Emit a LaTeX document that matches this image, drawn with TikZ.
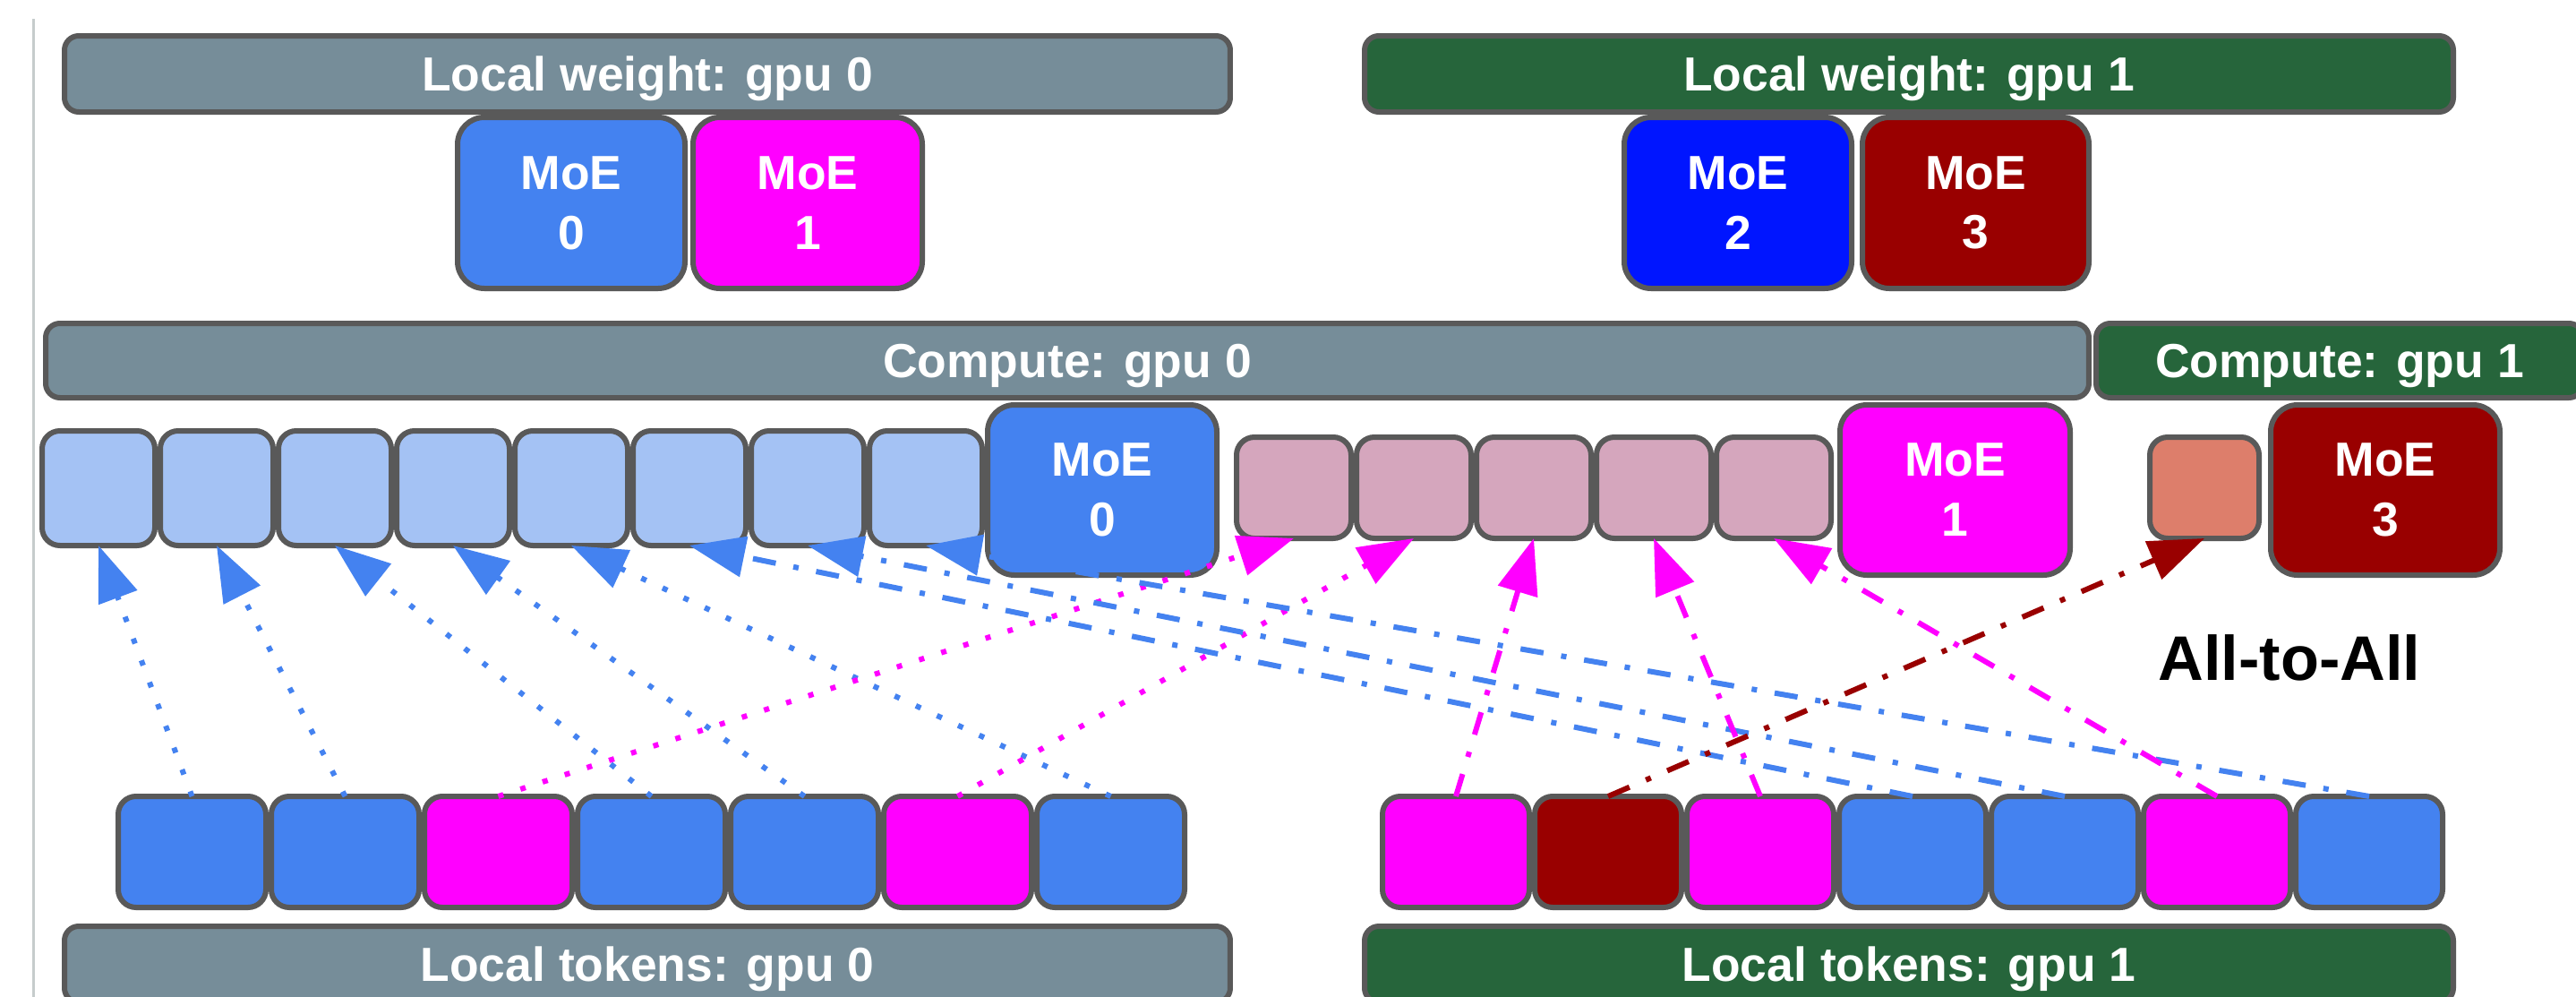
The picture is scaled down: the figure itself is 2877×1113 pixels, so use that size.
\documentclass[tikz,border=0pt]{standalone}
\usepackage{fontspec}
\setmainfont{Liberation Sans}
\usetikzlibrary{arrows.meta}

\definecolor{edgegray}{HTML}{595959}
\definecolor{slate}{HTML}{768D99}
\definecolor{forest}{HTML}{26653B}
\definecolor{gblue}{HTML}{4482F0}
\definecolor{magent}{HTML}{FF00FF}
\definecolor{pureblue}{HTML}{0015FF}
\definecolor{maroon}{HTML}{990000}
\definecolor{lightblue}{HTML}{A4C2F4}
\definecolor{mauve}{HTML}{D5A6BD}
\definecolor{salmon}{HTML}{DD7E6B}
\definecolor{railgray}{HTML}{C6CCCC}

\newcommand\boxfont{\fontsize{15.2}{19}\selectfont\bfseries}

\tikzset{
  x=0.1mm, y=-0.1mm,
  box/.style={draw=edgegray, line width=0.6mm, inner sep=0pt, outer sep=0pt,
    anchor=north west, text=white, font=\boxfont},
  bar/.style={box, rounded corners=1.6mm, text height=3.85mm, text depth=0pt},
  moe/.style={box, rounded corners=3mm, align=center},
  cell/.style={box, rounded corners=2mm},
  tip/.style={-{Triangle[length=6.2mm,width=4.5mm]}},
  dotline/.style={tip, line width=0.6mm, dash pattern=on 0.6mm off 2mm},
  dashdot/.style={tip, line width=0.6mm, dash pattern=on 2.6mm off 2mm on 0.6mm off 2mm},
}

\begin{document}
\begin{tikzpicture}
\useasboundingbox (0,0) rectangle (2877,1113);
\fill[white] (0,0) rectangle (2877,1113);
\clip (0,0) rectangle (2877,1113);

% thin rail on the left edge
\draw[railgray, line width=0.3mm] (37.5,21) -- (37.5,1113);

% ---------- local weights ----------
\node[moe, fill=gblue,    minimum width=25.4mm, minimum height=19.1mm] (w0) at (511,131)  {MoE\\0};
\node[moe, fill=magent,   minimum width=25.6mm, minimum height=19.1mm] (w1) at (774,131)  {MoE\\1};
\node[moe, fill=pureblue, minimum width=25.4mm, minimum height=19.1mm] (w2) at (1814,131) {MoE\\2};
\node[moe, fill=maroon,   minimum width=25.3mm, minimum height=19.1mm] (w3) at (2080,131) {MoE\\3};
\node[bar, fill=slate,  minimum width=130.2mm, minimum height=8.5mm] (lw0) at (72,40)   {Local weight: gpu 0};
\node[bar, fill=forest, minimum width=121.6mm, minimum height=8.5mm] (lw1) at (1524,40) {Local weight: gpu 1};

% ---------- compute ----------
\node[bar, fill=slate,  minimum width=228.2mm, minimum height=8.3mm] (cp0) at (51,361)   {Compute: gpu 0};
\node[bar, fill=forest, minimum width=54.4mm,  minimum height=8.3mm] (cp1) at (2341,361) {Compute: gpu 1};

\foreach \i in {0,...,7}
  \node[cell, fill=lightblue, minimum width=12.6mm, minimum height=12.8mm] (c\i) at ({47+132*\i},481) {};
\node[moe, fill=gblue, minimum width=25.6mm, minimum height=19.0mm] (m0) at (1103,452) {MoE\\0};

\foreach \i in {0,...,4}
  \node[cell, fill=mauve, minimum width=12.8mm, minimum height=11.3mm] (p\i) at ({1381+134*\i},488) {};
\node[moe, fill=magent, minimum width=25.7mm, minimum height=19.0mm] (m1) at (2055,452) {MoE\\1};

\node[cell, fill=salmon, minimum width=12.2mm, minimum height=11.3mm] (s) at (2401,488) {};
\node[moe, fill=maroon, minimum width=25.6mm, minimum height=19.0mm] (m3) at (2536,452) {MoE\\3};

% ---------- local tokens ----------
\foreach \i/\c in {0/gblue,1/gblue,2/magent,3/gblue,4/gblue,5/magent,6/gblue}
  \node[cell, fill=\c, minimum width=16.5mm, minimum height=12.4mm] (l\i) at ({132+171*\i},889) {};
\foreach \i/\c in {0/magent,1/maroon,2/magent,3/gblue,4/gblue,5/magent,6/gblue}
  \node[cell, fill=\c, minimum width=16.4mm, minimum height=12.4mm] (r\i) at ({1544+170*\i},889) {};

\node[bar, fill=slate,  minimum width=130.2mm, minimum height=8.5mm] (lt0) at (72,1034)   {Local tokens: gpu 0};
\node[bar, fill=forest, minimum width=121.6mm, minimum height=8.5mm] (lt1) at (1524,1034) {Local tokens: gpu 1};

\node[font=\fontsize{20}{24}\selectfont\bfseries, text=black] (a2a) at (2557,734) {All-to-All};

% ---------- all-to-all routing ----------
\draw[dotline, gblue] (l0.north) -- (c0.south);
\draw[dotline, gblue] (l1.north) -- (c1.south);
\draw[dotline, gblue] (l3.north) -- (c2.south);
\draw[dotline, gblue] (l4.north) -- (c3.south);
\draw[dotline, gblue] (l6.north) -- (c4.south);
\draw[dotline, magent] (l2.north) -- (p0.south);
\draw[dotline, magent] (l5.north) -- (p1.south);

\draw[dashdot, gblue] (r3.north) -- (c5.south);
\draw[dashdot, gblue] (r4.north) -- (c6.south);
\draw[dashdot, gblue] (r6.north) -- (c7.south);
\draw[dashdot, magent] (r0.north) -- (p2.south);
\draw[dashdot, magent] (r2.north) -- (p3.south);
\draw[dashdot, magent] (r5.north) -- (p4.south);
\draw[dashdot, maroon] (r1.north) -- (s.south);
\end{tikzpicture}
\end{document}
